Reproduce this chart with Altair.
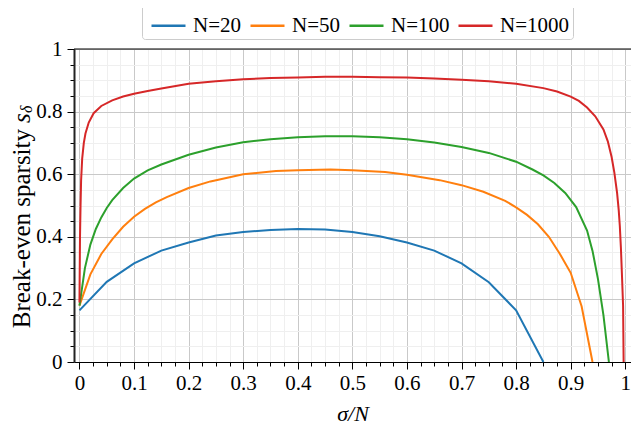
import altair as alt
import pandas as pd

# ---- data ----
series_names = ["N=20", "N=50", "N=100", "N=1000"]
colors = ["#1f77b4", "#ff7f0e", "#2ca02c", "#d62728"]

x20 = [0.00, 0.05, 0.10, 0.15, 0.20, 0.25, 0.30, 0.35, 0.40, 0.45, 0.50, 0.55,
       0.60, 0.65, 0.70, 0.75, 0.80, 0.85]
y20 = [0.165, 0.256, 0.315, 0.356, 0.382, 0.404, 0.415, 0.422, 0.425, 0.423, 0.415, 0.402,
       0.382, 0.356, 0.315, 0.255, 0.165, 0.0]

x50 = [0.00, 0.02, 0.04, 0.06, 0.08, 0.10, 0.12, 0.14, 0.16, 0.20, 0.24, 0.30, 0.36, 0.40,
       0.46, 0.50, 0.56, 0.60, 0.66, 0.70, 0.74, 0.78, 0.80, 0.82, 0.84, 0.86, 0.88, 0.90,
       0.92, 0.94]
y50 = [0.180, 0.280, 0.345, 0.392, 0.432, 0.464, 0.489, 0.510, 0.527, 0.556, 0.577, 0.600,
       0.610, 0.613, 0.615, 0.613, 0.607, 0.598, 0.581, 0.565, 0.544, 0.515, 0.494, 0.470,
       0.440, 0.400, 0.346, 0.285, 0.178, 0.0]

x100 = [0.00, 0.01, 0.02, 0.03, 0.04, 0.05, 0.06, 0.08, 0.10, 0.125, 0.15, 0.20, 0.25, 0.30,
        0.35, 0.40, 0.45, 0.50, 0.55, 0.60, 0.65, 0.70, 0.75, 0.80, 0.83, 0.85, 0.87, 0.89,
        0.91, 0.93, 0.94, 0.95, 0.96, 0.97]
y100 = [0.180, 0.300, 0.375, 0.425, 0.462, 0.492, 0.517, 0.556, 0.586, 0.612, 0.631, 0.662,
        0.685, 0.702, 0.712, 0.718, 0.721, 0.721, 0.718, 0.712, 0.701, 0.687, 0.668, 0.640,
        0.615, 0.596, 0.572, 0.540, 0.495, 0.420, 0.355, 0.265, 0.150, 0.0]

x1000 = [0.000, 0.001, 0.002, 0.003, 0.005, 0.008, 0.011, 0.017, 0.026, 0.040, 0.060, 0.080,
         0.100, 0.125, 0.150, 0.200, 0.250, 0.300, 0.350, 0.400, 0.450, 0.500, 0.550, 0.600,
         0.650, 0.700, 0.750, 0.800, 0.850, 0.875, 0.900, 0.915, 0.930, 0.945, 0.960, 0.968,
         0.975, 0.980, 0.985, 0.988, 0.990, 0.992, 0.994, 0.996, 0.997]
y1000 = [0.19, 0.40, 0.50, 0.58, 0.65, 0.70, 0.73, 0.765, 0.795, 0.818, 0.836, 0.848,
         0.857, 0.866, 0.874, 0.889, 0.897, 0.903, 0.907, 0.909, 0.911, 0.911, 0.910, 0.909,
         0.906, 0.902, 0.897, 0.889, 0.875, 0.864, 0.848, 0.834, 0.813, 0.785, 0.743, 0.705,
         0.655, 0.605, 0.540, 0.485, 0.435, 0.365, 0.275, 0.180, 0.0]

x_ticks = [round(i * 0.025, 3) for i in range(0, 41)]
y_ticks = [round(i * 0.05, 2) for i in range(0, 21)]

rows = []
for name, xs, ys in zip(series_names, [x20, x50, x100, x1000], [y20, y50, y100, y1000]):
    for i, (a, b) in enumerate(zip(xs, ys)):
        rows.append({"series": name, "order": i, "x": a, "y": b})
df = pd.DataFrame(rows)
one = pd.DataFrame({"k": [0]})

FONT = "Liberation Serif"
FS = 21
MAJOR_X = "abs(datum.value*10 - round(datum.value*10)) < 1e-6"
MAJOR_Y = "abs(datum.value*5 - round(datum.value*5)) < 1e-6"

x_axis = alt.Axis(
    values=x_ticks,
    labelExpr=f"({MAJOR_X}) ? format(datum.value, '~g') : ''",
    labelOverlap=False,
    labelFont=FONT, labelFontSize=FS, labelColor="black", labelPadding=3,
    tickColor="black",
    tickSize={"condition": {"test": MAJOR_X, "value": 7}, "value": 4},
    tickWidth=1,
    gridColor={"condition": {"test": MAJOR_X, "value": "#c9c9c9"}, "value": "#efefef"},
    gridWidth=1,
    domainColor="black", domainWidth=1.2,
    title="σ/N", titleFont=FONT, titleFontSize=FS + 1, titleFontStyle="italic",
    titleFontWeight="normal", titleColor="black",
    titleY=58, titleBaseline="alphabetic",
)
y_axis = alt.Axis(
    values=y_ticks,
    labelExpr=f"({MAJOR_Y}) ? format(datum.value, '~g') : ''",
    labelOverlap=False,
    labelFont=FONT, labelFontSize=FS, labelColor="black", labelPadding=5,
    tickColor="black",
    tickSize={"condition": {"test": MAJOR_Y, "value": 7}, "value": 4},
    tickWidth=1,
    gridColor={"condition": {"test": MAJOR_Y, "value": "#c9c9c9"}, "value": "#efefef"},
    gridWidth=1,
    domainColor="#222222", domainWidth=2,
    title=None,
)

lines = alt.Chart(df).mark_line(strokeWidth=2, clip=False).encode(
    x=alt.X("x:Q", scale=alt.Scale(domain=[-0.01, 1.0105], nice=False, zero=False), axis=x_axis),
    y=alt.Y("y:Q", scale=alt.Scale(domain=[0, 1], nice=False), axis=y_axis),
    color=alt.Color(
        "series:N",
        scale=alt.Scale(domain=series_names, range=colors),
        legend=alt.Legend(
            orient="none", legendX=68, legendY=-45, direction="horizontal",
            title=None, symbolType="stroke", symbolStrokeWidth=2.5, symbolSize=1156,
            labelFont=FONT, labelFontSize=FS, labelColor="black",
            strokeColor="#cccccc", fillColor="white", padding=3, cornerRadius=3,
            columnPadding=2, labelOffset=6, symbolOffset=5,
        ),
    ),
    order="order:Q",
)

top_rule = alt.Chart(one).mark_rule(color="black", strokeWidth=1.2).encode(y=alt.value(0))

TFS = 25
ytitle_a = alt.Chart(one).mark_text(
    text="Break-even sparsity", font=FONT, fontSize=TFS, angle=270, align="right",
    baseline="middle", color="black",
).encode(x=alt.value(-52), y=alt.value(80))
ytitle_b = alt.Chart(one).mark_text(
    text="s", font=FONT, fontSize=TFS, fontStyle="italic", angle=270, align="left",
    baseline="middle", color="black",
).encode(x=alt.value(-52), y=alt.value(74))
ytitle_c = alt.Chart(one).mark_text(
    text="δ", font=FONT, fontSize=16, fontStyle="italic", angle=270, align="left",
    baseline="middle", color="black",
).encode(x=alt.value(-47), y=alt.value(64))

chart = alt.layer(lines, top_rule, ytitle_a, ytitle_b, ytitle_c).properties(
    width=557, height=313,
    autosize=alt.AutoSizeParams(type="none"),
    padding={"left": 66, "top": 41, "right": 0, "bottom": 65},
).configure_view(stroke=None).configure(background="white")

chart.save("out.html", embed_options={"renderer": "svg", "actions": False})
